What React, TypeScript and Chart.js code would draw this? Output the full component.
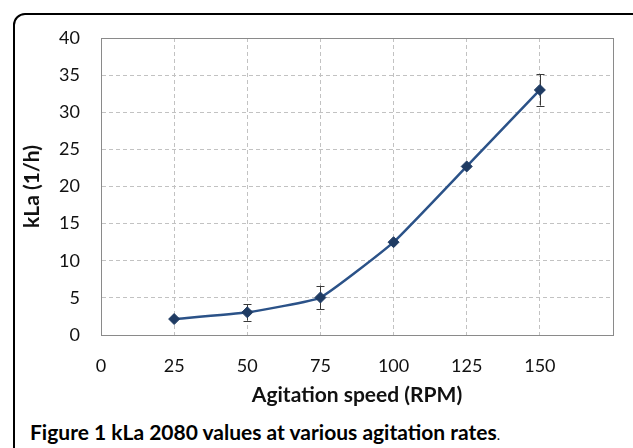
import React, { useEffect, useRef } from "react";
import { Chart, registerables } from "chart.js";

Chart.register(...registerables);

const speeds = [25, 50, 75, 100, 125, 150];
const kla = [2.15, 3.05, 5.05, 12.5, 22.7, 33.0];
const klaErr = [0, 1.1, 1.6, 0, 0, 2.1];
const yTicks = [0, 5, 10, 15, 20, 25, 30, 35, 40];
const xTicks = [0, 25, 50, 75, 100, 125, 150, 175];
const xTitle = "Agitation speed (RPM)";
const yTitle = "kLa (1/h)";
const captionBold = "Figure 1 kLa 2080 values at various agitation rates";

const FONT = "Lato, 'Open Sans', sans-serif";

const errorBarPlugin = {
  id: "errorBars",
  beforeDatasetsDraw(chart: any) {
    const { ctx, scales } = chart;
    const xs = scales.x;
    const ys = scales.y;
    ctx.save();
    ctx.strokeStyle = "#3a3a3a";
    ctx.lineWidth = 1;
    speeds.forEach((s, i) => {
      const e = klaErr[i];
      if (!e) return;
      const px = Math.round(xs.getPixelForValue(s)) + 0.5;
      const top = ys.getPixelForValue(kla[i] + e);
      const bot = ys.getPixelForValue(kla[i] - e);
      ctx.beginPath();
      ctx.moveTo(px, top);
      ctx.lineTo(px, bot);
      ctx.moveTo(px - 4, Math.round(top) + 0.5);
      ctx.lineTo(px + 4, Math.round(top) + 0.5);
      ctx.moveTo(px - 4, Math.round(bot) + 0.5);
      ctx.lineTo(px + 4, Math.round(bot) + 0.5);
      ctx.stroke();
    });
    ctx.restore();
  },
};

const frameBorderPlugin = {
  id: "plotFrame",
  afterDraw(chart: any) {
    const { ctx, chartArea } = chart;
    ctx.save();
    ctx.strokeStyle = "#8a8a8a";
    ctx.lineWidth = 1;
    ctx.setLineDash([]);
    ctx.strokeRect(
      Math.round(chartArea.left) + 0.5,
      Math.round(chartArea.top) + 0.5,
      Math.round(chartArea.right - chartArea.left),
      Math.round(chartArea.bottom - chartArea.top)
    );
    ctx.restore();
  },
};

export default function App() {
  const ref = useRef<HTMLCanvasElement | null>(null);

  useEffect(() => {
    if (!ref.current) return;
    const chart = new Chart(ref.current, {
      type: "line",
      data: {
        datasets: [
          {
            data: speeds.map((s, i) => ({ x: s, y: kla[i] })),
            borderColor: "#2B5288",
            borderWidth: 2.5,
            backgroundColor: "#1F3B63",
            pointBackgroundColor: "#1F3B63",
            pointBorderColor: "#1F3B63",
            pointStyle: "rectRot",
            pointRadius: 5.5,
            pointBorderWidth: 1,
            tension: 0.12,
          },
        ],
      },
      options: {
        animation: false,
        responsive: false,
        maintainAspectRatio: false,
        layout: { padding: { top: 38, right: 10, left: 0, bottom: 0 } },
        plugins: {
          legend: { display: false },
          tooltip: { enabled: false },
        },
        scales: {
          x: {
            type: "linear",
            min: 0,
            max: 175,
            afterBuildTicks: (axis: any) => {
              axis.ticks = xTicks.map((v) => ({ value: v }));
            },
            afterFit: (scale: any) => {
              scale.height = 75;
            },
            ticks: {
              color: "#111",
              font: { family: FONT, size: 18 },
              padding: 20,
              callback: (v: any) => (v === 175 ? "" : String(v)),
            },
            grid: {
              color: "#c2c2c2",
              drawTicks: false,
              lineWidth: 1,
            },
            border: { display: true, color: "#8a8a8a", dash: [4, 3] },
            title: {
              display: true,
              text: xTitle,
              color: "#111",
              font: { family: FONT, size: 21, weight: "bold" },
              padding: { top: 0, bottom: 2 },
            },
          },
          y: {
            type: "linear",
            min: 0,
            max: 40,
            afterBuildTicks: (axis: any) => {
              axis.ticks = yTicks.map((v) => ({ value: v }));
            },
            afterFit: (scale: any) => {
              scale.width = 101;
            },
            ticks: {
              color: "#111",
              font: { family: FONT, size: 18 },
              padding: 21,
            },
            grid: {
              color: "#c2c2c2",
              drawTicks: false,
              lineWidth: 1,
            },
            border: { display: true, color: "#8a8a8a", dash: [4, 3] },
            title: {
              display: true,
              text: yTitle,
              color: "#111",
              font: { family: FONT, size: 21, weight: "bold" },
              padding: { top: 20, bottom: 0 },
            },
          },
        },
      },
      plugins: [errorBarPlugin, frameBorderPlugin],
    } as any);
    return () => chart.destroy();
  }, []);

  return (
    <div
      style={{
        position: "absolute",
        left: 0,
        top: 0,
        width: 633,
        height: 448,
        background: "#fff",
        overflow: "hidden",
      }}
    >
      <div
        style={{
          position: "absolute",
          left: 13,
          top: 13,
          width: 700,
          height: 500,
          border: "2px solid #000",
          borderRadius: 12,
          boxSizing: "border-box",
        }}
      />
      <canvas
        ref={ref}
        width={633}
        height={410}
        style={{ position: "absolute", left: 0, top: 0, width: 633, height: 410 }}
      />
      <div
        style={{
          position: "absolute",
          left: 30,
          top: 420,
          fontFamily: FONT,
          fontSize: 21,
          lineHeight: "24px",
          color: "#000",
          whiteSpace: "nowrap",
        }}
      >
        <span style={{ fontWeight: "bold" }}>{captionBold}</span>
        <span style={{ fontSize: 14 }}>.</span>
      </div>
    </div>
  );
}
